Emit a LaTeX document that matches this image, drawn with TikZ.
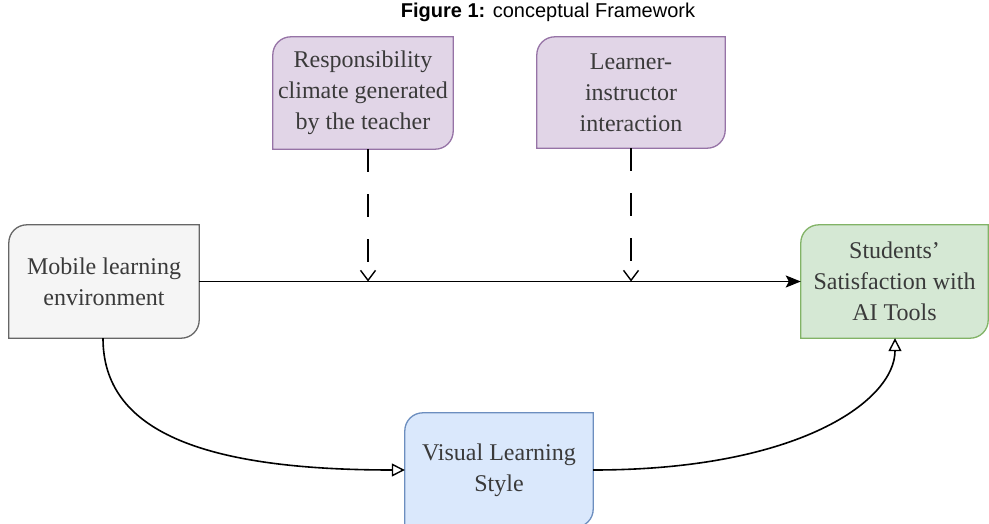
\documentclass[tikz,border=0pt]{standalone}
\usepackage{fontspec}
\setmainfont{Liberation Serif}
\newfontfamily\titlefont{Liberation Sans}
\usetikzlibrary{arrows.meta,backgrounds}
\definecolor{purfill}{HTML}{E1D5E7}\definecolor{purline}{HTML}{9673A6}
\definecolor{grayfill}{HTML}{F5F5F5}\definecolor{grayline}{HTML}{666666}
\definecolor{grnfill}{HTML}{D5E8D4}\definecolor{grnline}{HTML}{82B366}
\definecolor{blufill}{HTML}{DAE8FC}\definecolor{bluline}{HTML}{6C8EBF}
\definecolor{txtgray}{HTML}{3A3A3A}
\newcommand{\myoutline}[2]{%
  \begin{pgfonlayer}{background}
  \draw[#2] ([xshift=18pt]#1.north west) -- (#1.north east) -- ([yshift=18pt]#1.south east)
    arc[start angle=0,end angle=-90,radius=18pt] -- (#1.south west) -- ([yshift=-18pt]#1.north west)
    arc[start angle=180,end angle=90,radius=18pt] -- cycle;
  \end{pgfonlayer}}
\tikzset{
  cbox/.style={inner sep=0pt, align=center, text=txtgray,
    font=\fontsize{24}{31}\selectfont},
  purstyle/.style={fill=purfill, draw=purline, line width=1.3pt},
  graystyle/.style={fill=grayfill, draw=grayline, line width=1.3pt},
  grnstyle/.style={fill=grnfill, draw=grnline, line width=1.3pt},
  blustyle/.style={fill=blufill, draw=bluline, line width=1.3pt},
  conn/.style={line width=1.6pt, black},
  modline/.style={line width=1.6pt, black, dash pattern=on 23pt off 22pt,
    -{Straight Barb[length=10pt,width=15pt,line width=1.4pt]}},
  opentip/.style={-{Triangle[open,length=13pt,width=13pt,line width=1.4pt]}},
}
\begin{document}
\begin{tikzpicture}[x=1pt,y=1pt]
\useasboundingbox (0,0) rectangle (989,523);
\node[font=\titlefont\fontsize{20}{24}\selectfont] (title) at (548,511) {\textbf{Figure 1:} conceptual Framework};

\node[cbox, minimum width=180pt, minimum height=112pt] (resp) at (363,430) {Responsibility\\climate generated\\by the teacher};
\myoutline{resp}{purstyle}
\node[cbox, minimum width=188pt, minimum height=111pt] (lear) at (631,430.5) {Learner-\\instructor\\interaction};
\myoutline{lear}{purstyle}
\node[cbox, minimum width=190pt, minimum height=113pt] (mob) at (104,241.5) {Mobile learning\\environment};
\myoutline{mob}{graystyle}
\node[cbox, minimum width=187pt, minimum height=113pt] (stu) at (894.5,241.5) {Students’\\Satisfaction with\\AI Tools};
\myoutline{stu}{grnstyle}
\node[cbox, minimum width=188pt, minimum height=114pt] (vis) at (499,53) {Visual Learning\\Style};
\myoutline{vis}{blustyle}

\draw[conn, -{Stealth[length=15pt,width=12pt,inset=3pt]}] (mob.east) -- (stu.west);
\coordinate (m1) at (368,241.5);
\coordinate (m2) at (631,241.5);
\draw[modline] (resp.south -| m1) -- (m1);
\draw[modline] (lear.south -| m2) -- (m2);
\draw[conn, opentip]
  ([xshift=-1pt]mob.south) .. controls (103,93) and (200,53) .. (vis.west);
\draw[conn, opentip]
  (vis.east) .. controls (800,53) and (895,123) .. ([xshift=0.5pt]stu.south);
\end{tikzpicture}
\end{document}
